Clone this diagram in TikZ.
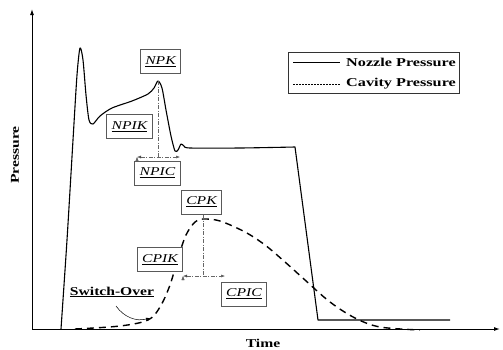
\documentclass[tikz,border=0pt]{standalone}
\usepackage{fontspec}
\setmainfont{Liberation Serif}
\usepackage{tikz}
\usetikzlibrary{arrows.meta}

\newcommand{\wide}[1]{\scalebox{1.3}[1]{#1}}
\tikzset{
  lbl/.style={shape=rectangle, draw=black!65, line width=0.6pt, fill=white, inner xsep=5pt, inner ysep=4pt, minimum height=24pt, font=\fontsize{12}{13}\selectfont\itshape},
  dimline/.style={draw=black!60, line width=0.5pt, dash pattern=on 4pt off 1.5pt on 1pt off 1.5pt},
  nozzle/.style={draw=black, line width=1.1pt},
  cavity/.style={draw=black, line width=1.4pt, dash pattern=on 7pt off 5pt},
  bold/.style={font=\fontsize{12}{13}\selectfont\bfseries},
}

\begin{document}
\begin{tikzpicture}[x=1pt,y=-1pt]
					\useasboundingbox (0,0) rectangle (503,349);
					% axes
					\coordinate (O) at (32,329);
					\coordinate (Ytop) at (32,9);
					\coordinate (Xend) at (500,329);
					\path [-{Latex[length=6pt,width=4pt]}, line width=1pt, black] (O) edge (Ytop);
					\path [-{Latex[length=6pt,width=4pt]}, line width=1pt, black] (O) edge (Xend);
					\node[rotate=90, bold] (P) at (15,155) {\wide{Pressure}};
					\node[bold] (T) at (263,343) {\wide{Time}};
					
					% nozzle pressure
					\draw[nozzle, line join=round] plot[smooth, tension=0.45] coordinates {(61,329) (67,240) (73,140) (77,75) (80,48) (83,60) (86,95) (89,120) (93,124) (100,116) (112,108) (132,101) (148,94) (154,88) (158,81) (162,88) (166,110) (171,136) (175,151) (178,150) (181,144) (184,146) (190,148) (240,148) (295,147)}
					  -- (318,320) -- (450,320);
					% cavity pressure
					\draw[cavity] plot[smooth, tension=0.55] coordinates {(75,329) (120,326) (148,320) (160,307) (170,285) (178,258) (186,235) (195,222) (203,219) (220,221) (245,232) (265,245) (285,262) (305,280) (330,302) (355,318) (380,327) (420,330)};
					
					% peaks
					\coordinate (NP) at (158,81);
					\coordinate (NPb) at (158,157);
					\coordinate (NPl) at (137,157);
					\coordinate (NPr) at (180,157);
					\coordinate (CP) at (203,215);
					\coordinate (CPb) at (203,276);
					\coordinate (CPl) at (183,276);
					\coordinate (CPr) at (225,276);
					\path [dimline] (NP) edge (NPb);
					\path [dimline, {Latex[length=4pt,width=3pt]}-{Latex[length=4pt,width=3pt]}] (NPl) edge (NPr);
					\path [dimline] (CP) edge (CPb);
					\path [dimline, {Latex[length=4pt,width=3pt]}-{Latex[length=4pt,width=3pt]}] (CPl) edge (CPr);
					
					% labels
					\node[lbl] (NPK) at (160.5,61.5) {\wide{\underline{NPK}}};
					\node[lbl] (NPIK) at (129.5,126.5) {\wide{\underline{NPIK}}};
					\node[lbl] (NPIC) at (157.5,173) {\wide{\underline{NPIC}}};
					\node[lbl] (CPK) at (201.5,202) {\wide{\underline{CPK}}};
					\node[lbl] (CPIK) at (160,259.5) {\wide{\underline{CPIK}}};
					\node[lbl] (CPIC) at (244,294) {\wide{\underline{CPIC}}};
					
					% switch-over
					\node[bold] (SO) at (112,292) {\wide{\underline{Switch-Over}}};
					\coordinate (SOa) at (116,306);
					\coordinate (SOb) at (150,318);
					\path [-{Latex[length=4pt,width=3pt]}, line width=0.5pt, black] (SOa) edge[bend right=35] (SOb);
					
					% legend
					\node[shape=rectangle, draw=black!80, line width=0.6pt, minimum width=171pt, minimum height=41pt] (L) at (373.5,72.5) {};
					\coordinate (La) at (293,62);
					\coordinate (Lb) at (340,62);
					\coordinate (Lc) at (293,84);
					\coordinate (Ld) at (340,84);
					\path [-, line width=1pt, black] (La) edge (Lb);
					\path [-, line width=0.5pt, black, dash pattern=on 2pt off 1pt] (Lc) edge (Ld);
					\node[anchor=west, inner sep=0pt, bold] (LN) at (346,62) {\scalebox{1.35}[1]{Nozzle Pressure}};
					\node[anchor=west, inner sep=0pt, bold] (LC) at (346,84) {\scalebox{1.35}[1]{Cavity Pressure}};
					\end{tikzpicture}
\end{document}
